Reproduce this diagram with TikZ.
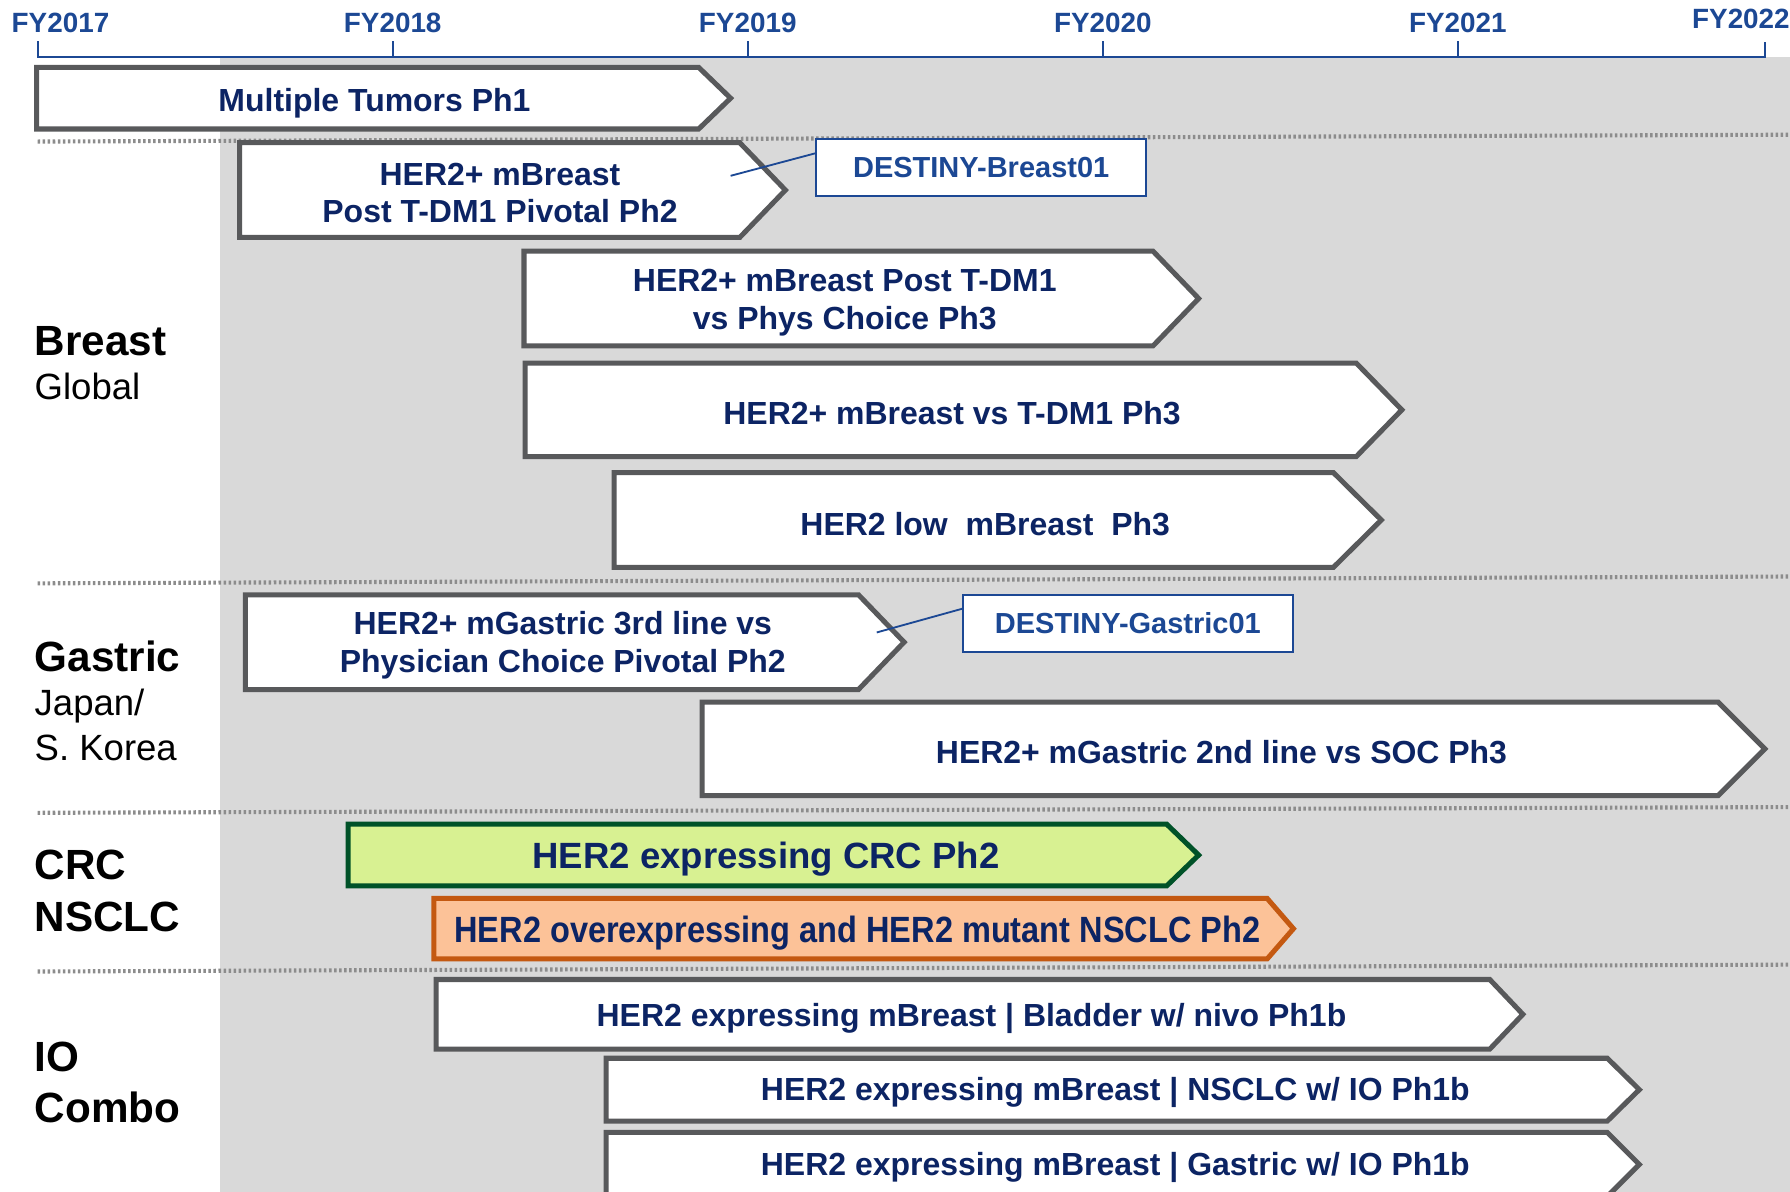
\documentclass[tikz,border=0pt]{standalone}
\usepackage{fontspec}
\setmainfont{Liberation Sans}

\definecolor{axisBlue}{RGB}{28,72,148}
\definecolor{textNavy}{RGB}{12,36,100}
\definecolor{bgGray}{RGB}{217,217,217}
\definecolor{barGray}{RGB}{88,89,91}
\definecolor{sepGray}{RGB}{140,140,140}
\definecolor{crcFill}{RGB}{216,241,146}
\definecolor{crcEdge}{RGB}{0,82,40}
\definecolor{lungFill}{RGB}{252,194,152}
\definecolor{lungEdge}{RGB}{196,89,17}

\tikzset{
    YEAR/.style={font={\fontsize{12.2}{14}\selectfont\bfseries}, text=axisBlue,
        inner sep=0pt},
    AXIS/.style={draw=axisBlue, line width=1pt},
    SEP_LINE/.style={draw=sepGray, line width=1.8pt,
        dash pattern=on 1.1pt off 1.1pt},
    BAR/.style={draw=barGray, fill=white, line width=2.2pt, line join=miter},
    CRC_BAR/.style={BAR, draw=crcEdge, fill=crcFill},
    LUNG_BAR/.style={BAR, draw=lungEdge, fill=lungFill},
    BAR_TEXT/.style={font={\fontsize{14}{16.5}\selectfont\bfseries},
        text=textNavy, align=center, inner sep=0pt, yshift=-1pt},
    BIG_BAR_TEXT/.style={BAR_TEXT, font={\fontsize{16}{19}\selectfont\bfseries}},
    TAG/.style={draw=axisBlue, fill=white, line width=0.8pt, shape=rectangle,
        minimum width=144.5pt, minimum height=25pt, inner sep=0pt,
        font={\fontsize{12.7}{15}\selectfont\bfseries}, text=axisBlue},
    TAG_EDGE/.style={draw=axisBlue, line width=0.8pt},
    GROUP_HEAD/.style={font={\fontsize{18.5}{22}\selectfont\bfseries},
        anchor=base west, inner sep=0pt},
    GROUP_SUB/.style={font={\fontsize{16}{19}\selectfont},
        anchor=base west, inner sep=0pt}
}
\pgfdeclarelayer{bglayer}
\pgfdeclarelayer{barlayer}
\pgfsetlayers{bglayer,barlayer,main}

\begin{document}
\begin{tikzpicture}[x=0.5pt, y=-0.5pt]
    \useasboundingbox (0,0) rectangle (1568,1044);
    \begin{pgfonlayer}{bglayer}
        \fill[bgGray] (193,50) rectangle (1568,1044);
        \draw[SEP_LINE] (33,124) -- (1568,118);
        \draw[SEP_LINE] (33,511) -- (1568,505);
        \draw[SEP_LINE] (33,712) -- (1568,707);
        \draw[SEP_LINE] (33,851) -- (1568,845);
        % time axis
        \draw[AXIS] (33,36) -- (33,50) -- (1546,50) -- (1546,37);
        \draw[AXIS] (344,36) -- (344,50);
        \draw[AXIS] (655,36) -- (655,50);
        \draw[AXIS] (966,36) -- (966,50);
        \draw[AXIS] (1277,36) -- (1277,50);
    \end{pgfonlayer}
    \begin{pgfonlayer}{barlayer}
        \draw[BAR] (32,59) -- (612,59) -- (640,86) -- (612,113) -- (32,113) -- cycle;
        \draw[BAR] (210,125) -- (648,125) -- (688,166.5) -- (648,208) -- (210,208) -- cycle;
        \draw[BAR] (459,220) -- (1010,220) -- (1050,261.5) -- (1010,303) -- (459,303) -- cycle;
        \draw[BAR] (460,318) -- (1188,318) -- (1228,359) -- (1188,400) -- (460,400) -- cycle;
        \draw[BAR] (538,414) -- (1168,414) -- (1210,455.5) -- (1168,497) -- (538,497) -- cycle;
        \draw[BAR] (215,521) -- (752,521) -- (792,562.5) -- (752,604) -- (215,604) -- cycle;
        \draw[BAR] (615,615) -- (1505,615) -- (1546,656) -- (1505,697) -- (615,697) -- cycle;
        \draw[CRC_BAR] (305,722) -- (1022,722) -- (1050,749) -- (1022,776) -- (305,776) -- cycle;
        \draw[LUNG_BAR] (380,787) -- (1110,787) -- (1133,813.5) -- (1110,840) -- (380,840) -- cycle;
        \draw[BAR] (382,858) -- (1305,858) -- (1334,888.5) -- (1305,919) -- (382,919) -- cycle;
        \draw[BAR] (531,927) -- (1408,927) -- (1436,954.5) -- (1408,982) -- (531,982) -- cycle;
        \draw[BAR] (531,992) -- (1408,992) -- (1436,1020) -- (1408,1048) -- (531,1048) -- cycle;
    \end{pgfonlayer}

    \node [YEAR] (fy17) at (53,20) {FY2017};
    \node [YEAR] (fy18) at (344,20) {FY2018};
    \node [YEAR] (fy19) at (655,20) {FY2019};
    \node [YEAR] (fy20) at (966,20) {FY2020};
    \node [YEAR] (fy21) at (1277,20) {FY2021};
    \node [YEAR] (fy22) at (1525,17) {FY2022};

    \node [GROUP_HEAD] (breast) at (30,311) {Breast};
    \node [GROUP_SUB] (global) at (30,350) {Global};
    \node [GROUP_HEAD] (gastric) at (30,588) {Gastric};
    \node [GROUP_SUB] (japan) at (30,627) {Japan/};
    \node [GROUP_SUB] (korea) at (30,666) {S. Korea};
    \node [GROUP_HEAD] (crc) at (30,770) {CRC};
    \node [GROUP_HEAD] (nsclc) at (30,816) {NSCLC};
    \node [GROUP_HEAD] (io) at (30,939) {IO};
    \node [GROUP_HEAD] (combo) at (30,983) {Combo};

    \node [BAR_TEXT] (multi) at (328,88) {Multiple Tumors Ph1};
    \node [BAR_TEXT] (pivB) at (438,167) {HER2+ mBreast\\Post T-DM1 Pivotal Ph2};
    \node [BAR_TEXT] (physB) at (740,263) {HER2+ mBreast Post T-DM1\\vs Phys Choice Ph3};
    \node [BAR_TEXT] (tdmB) at (834,360) {HER2+ mBreast vs T-DM1 Ph3};
    \node [BAR_TEXT] (lowB) at (863,457) {HER2 low\ \ mBreast\ \ Ph3};
    \node [BAR_TEXT] (pivG) at (493,563) {HER2+ mGastric 3rd line vs\\Physician Choice Pivotal Ph2};
    \node [BAR_TEXT] (socG) at (1070,657) {HER2+ mGastric 2nd line vs SOC Ph3};
    \node [BIG_BAR_TEXT] (crcT) at (671,751) {HER2 expressing CRC Ph2};
    \node [BIG_BAR_TEXT] (lungT) at (751,815) {\scalebox{0.89}[1]{HER2 overexpressing and HER2 mutant NSCLC Ph2}};
    \node [BAR_TEXT] (ioBl) at (851,890) {HER2 expressing mBreast | Bladder w/ nivo Ph1b};
    \node [BAR_TEXT] (ioLu) at (977,955) {HER2 expressing mBreast | NSCLC w/ IO Ph1b};
    \node [BAR_TEXT] (ioGa) at (977,1021) {HER2 expressing mBreast | Gastric w/ IO Ph1b};

    % study name call-outs
    \coordinate (pivBin) at (640,154);
    \coordinate (pivGin) at (768,554);
    \node [TAG] (tagB) at (859.5,147) {DESTINY-Breast01};
    \node [TAG] (tagG) at (988,546) {DESTINY-Gastric01};
    \draw[TAG_EDGE] (pivBin) to (tagB.175);
    \draw[TAG_EDGE] (pivGin) to (tagG.175);
\end{tikzpicture}
\end{document}
